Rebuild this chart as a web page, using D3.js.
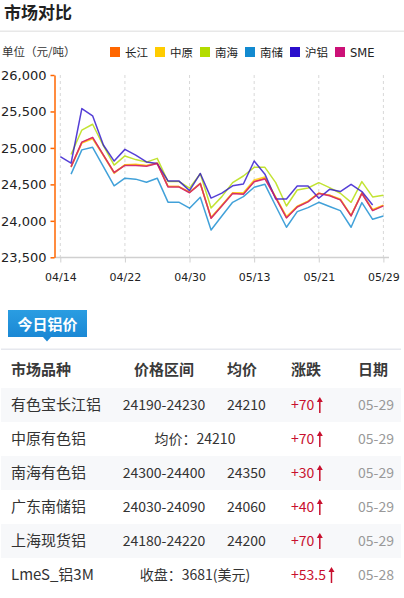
<!DOCTYPE html>
<html><head><meta charset="utf-8">
<script src="https://cdn.jsdelivr.net/npm/d3@7"></script>
<style>html,body{margin:0;padding:0;background:#fff;}svg{display:block;}</style>
</head><body>
<svg id="c" width="404" height="598"></svg>
<script>
const dates = ["04/14","04/15","04/16","04/17","04/18","04/21","04/22","04/23","04/24","04/25","04/28","04/29","04/30",
"05/06","05/07","05/08","05/09","05/12","05/13","05/14","05/15","05/16","05/19","05/20","05/21","05/22","05/23","05/26","05/27","05/28","05/29"];
const tickLabels = ["04/14","04/22","04/30","05/13","05/21","05/29"];
const yTicks = [23500,24000,24500,25000,25500,26000];
const seriesNames = ["长江","中原","南海","南储","沪铝","SME"];
const seriesColors = ["#ff6600","#ffcc00","#b3dc00","#128ad0","#2b0fcc","#cc1177"];
const changjiang = [null,24745,25075,25140,24905,24665,24765,24765,24755,24790,24470,24470,24390,24515,24040,24210,24380,24370,24540,24585,24320,24045,24195,24265,24380,24350,24290,24070,24380,24145,24210];
const zhongyuan  = [null,24735,25065,25125,24895,24650,24770,24775,24760,24795,24475,24470,24395,24510,24050,24215,24385,24385,24560,24600,24330,24060,24200,24270,24380,24350,24300,24075,24385,24155,24215];
const nanhai     = [null,24910,25245,25325,25030,24765,24890,24840,24805,24857,24540,24540,24448,24645,24175,24332,24524,24615,24734,24734,24524,24204,24423,24450,24524,24455,24378,24254,24538,24328,24352];
const nanchu     = [null,24640,24973,25009,24744,24480,24585,24572,24530,24585,24256,24256,24174,24324,23875,24067,24254,24332,24460,24501,24204,23912,24126,24181,24254,24197,24140,23912,24250,24021,24066];
const hulv       = [24880,24790,25540,25440,25040,24820,24980,24900,24808,24785,24548,24548,24415,24650,24312,24380,24480,24505,24820,24640,24300,24300,24478,24478,24310,24432,24402,24501,24402,24218,null];
const sme        = [null,24740,25080,25145,24900,24660,24760,24760,24750,24785,24465,24465,24385,24510,24035,24205,24375,24365,24535,24575,24315,24040,24190,24260,24375,24345,24288,24068,24375,24140,24205];
const seriesData = [changjiang,zhongyuan,nanhai,nanchu,hulv,sme];

const rowNames = ["有色宝长江铝","中原有色铝","南海有色铝","广东南储铝","上海现货铝","LmeS_铝3M"];
const rowRanges = ["24190-24230","均价：24210","24300-24400","24030-24090","24180-24220","收盘：3681(美元)"];
const rowAvgs = ["24210",null,"24350","24060","24200",null];
const rowChanges = ["+70","+70","+30","+40","+70","+53.5"];
const rowDates = ["05-29","05-29","05-29","05-29","05-29","05-28"];
const headers = ["市场品种","价格区间","均价","涨跌","日期"];

const svg = d3.select("#c");
const CJK = "'Noto Sans CJK SC','DejaVu Sans',sans-serif";
const LAT = "'DejaVu Sans','Noto Sans CJK SC',sans-serif";

// header
svg.append("text").attr("x",4).attr("y",19).text("市场对比")
  .attr("font-family",CJK).attr("font-size",17).attr("font-weight","bold").attr("fill","#222");
svg.append("rect").attr("x",0).attr("y",30.5).attr("width",404).attr("height",1.5).attr("fill","#e8e8e8");
svg.append("text").attr("x",2).attr("y",56).text("单位（元/吨）")
  .attr("font-family",CJK).attr("font-size",11.5).attr("fill","#333");

// legend
const lg = svg.append("g");
seriesNames.forEach((n,i)=>{
  const gx = 110 + i*45;
  lg.append("rect").attr("x",gx).attr("y",47).attr("width",10).attr("height",10).attr("fill",seriesColors[i]);
  lg.append("text").attr("x",gx+15).attr("y",56.5).text(n)
    .attr("font-family",LAT).attr("font-size",11.5).attr("fill","#222");
});

// scales
const x = d3.scalePoint().domain(dates).range([60.3,383.4]);
const y = d3.scaleLinear().domain([23500,26000]).range([257.3,75]);

// grid
svg.append("g").selectAll("line").data(tickLabels).join("line")
  .attr("x1",d=>x(d)).attr("x2",d=>x(d)).attr("y1",75).attr("y2",257)
  .attr("stroke","#d8d8d8").attr("stroke-dasharray","3,3").attr("stroke-width",1);

// x axis
const xa = svg.append("g").attr("transform","translate(0,257.5)")
  .call(d3.axisBottom(x).tickValues(tickLabels).tickSize(5).tickSizeOuter(0));
xa.select(".domain").remove();
xa.append("line").attr("x1",54).attr("x2",389).attr("stroke","#d0d0d0").attr("stroke-width",1.5);
xa.selectAll(".tick line").attr("stroke","#d0d0d0");
xa.selectAll(".tick text").attr("font-family",LAT).attr("font-size",11).attr("fill","#222").attr("dy","1.4em");

// y axis
const ya = svg.append("g").attr("transform","translate(54.5,0)")
  .call(d3.axisLeft(y).tickValues(yTicks).tickFormat(d3.format(",")).tickSize(4).tickSizeOuter(0).tickPadding(4));
ya.select(".domain").attr("stroke","#ff6600").attr("stroke-width",1.5);
ya.selectAll(".tick line").attr("stroke","#ff6600").attr("stroke-width",1.5);
ya.selectAll(".tick text").attr("font-family",LAT).attr("font-size",13).attr("fill","#222");

// lines
const line = d3.line().defined(d=>d[1]!==null).x(d=>x(d[0])).y(d=>y(d[1]));
seriesData.forEach((s,i)=>{
  svg.append("path").datum(dates.map((d,j)=>[d,s[j]]))
    .attr("d",line).attr("fill","none").attr("stroke",seriesColors[i])
    .attr("stroke-width",1.5).attr("stroke-opacity",0.8).attr("stroke-linejoin","round");
});

// table tab
const tab = svg.append("g");
const grad = svg.append("defs").append("linearGradient").attr("id","tabg").attr("x1",0).attr("y1",0).attr("x2",0).attr("y2",1);
grad.append("stop").attr("offset","0").attr("stop-color","#2a9de2");
grad.append("stop").attr("offset","1").attr("stop-color","#1b88d4");
tab.append("rect").attr("x",8).attr("y",310).attr("width",79).attr("height",27).attr("fill","url(#tabg)");
tab.append("path").attr("d","M43,337 L51,337 L47,341.5 Z").attr("fill","#1b88d4");
tab.append("text").attr("x",47.5).attr("y",329.5).attr("text-anchor","middle").text("今日铝价")
  .attr("font-family",CJK).attr("font-size",15).attr("font-weight","bold").attr("fill","#fff");
svg.append("rect").attr("x",1).attr("y",348.5).attr("width",400).attr("height",1.5).attr("fill","#e6e8ee");

// table header
const colX = [11,164,227,291,358];
const anchors = ["start","middle","start","start","start"];
headers.forEach((h,i)=>{
  svg.append("text").attr("x",colX[i]).attr("y",374.5).attr("text-anchor",anchors[i]).text(h)
    .attr("font-family",CJK).attr("font-size",15).attr("font-weight","bold").attr("fill","#3a3a3a");
});

// rows
rowNames.forEach((n,i)=>{
  const top = 388 + i*34, cy = top + 17;
  if(i%2===0) svg.append("rect").attr("x",1).attr("y",top).attr("width",400).attr("height",34).attr("fill","#f7f8fa");
  svg.append("text").attr("x",11).attr("y",cy+5).text(n)
    .attr("font-family",CJK).attr("font-size",15).attr("fill","#333");
  const merged = rowAvgs[i]===null;
  svg.append("text").attr("x",merged?195:164).attr("y",cy+5).attr("text-anchor","middle").text(rowRanges[i])
    .attr("font-family",CJK).attr("font-size",14).attr("fill","#333");
  if(!merged) svg.append("text").attr("x",227).attr("y",cy+5).text(rowAvgs[i])
    .attr("font-family",CJK).attr("font-size",14).attr("fill","#333");
  const ct = svg.append("text").attr("x",291).attr("y",cy+5).text(rowChanges[i])
    .attr("font-family",CJK).attr("font-size",14).attr("fill","#c8102e");
  const ax = 291 + ct.node().getComputedTextLength() + 5.5;
  svg.append("path").attr("d",`M${ax},${cy-6} L${ax},${cy+8}`).attr("stroke","#c8102e").attr("stroke-width",1.5);
  svg.append("path").attr("d",`M${ax-3},${cy-3} L${ax},${cy-8} L${ax+3},${cy-3} Z`).attr("fill","#c8102e");
  svg.append("text").attr("x",358).attr("y",cy+5).text(rowDates[i])
    .attr("font-family",CJK).attr("font-size",14).attr("fill","#999");
});
</script>
</body></html>
